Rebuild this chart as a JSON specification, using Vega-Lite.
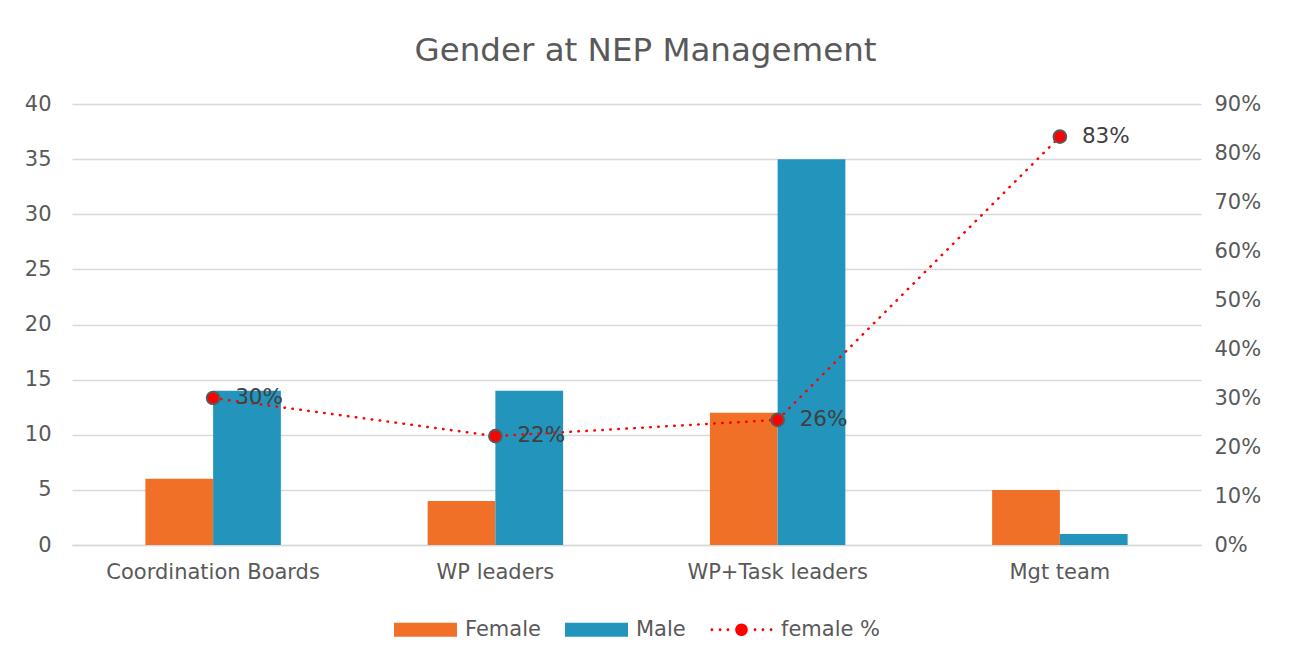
{
  "$schema": "https://vega.github.io/schema/vega-lite/v6.json",
  "width": 1129,
  "height": 441,
  "autosize": {"type": "none"},
  "padding": {"left": 72, "top": 104, "right": 89, "bottom": 119},
  "background": "white",
  "title": {
    "text": "Gender at NEP Management",
    "font": "DejaVu Sans",
    "fontSize": 32.5,
    "fontWeight": "normal",
    "color": "#595959",
    "anchor": "middle",
    "dx": 9,
    "offset": 0,
    "baseline": "alphabetic"
  },
  "config": {
    "view": {"stroke": null},
    "font": "DejaVu Sans"
  },
  "datasets": {
    "bars": [
      {"category": "Coordination Boards", "gender": "Female", "count": 6},
      {"category": "Coordination Boards", "gender": "Male", "count": 14},
      {"category": "WP leaders", "gender": "Female", "count": 4},
      {"category": "WP leaders", "gender": "Male", "count": 14},
      {"category": "WP+Task leaders", "gender": "Female", "count": 12},
      {"category": "WP+Task leaders", "gender": "Male", "count": 35},
      {"category": "Mgt team", "gender": "Female", "count": 5},
      {"category": "Mgt team", "gender": "Male", "count": 1}
    ],
    "pct": [
      {"category": "Coordination Boards", "pct": 0.30},
      {"category": "WP leaders", "pct": 0.2222},
      {"category": "WP+Task leaders", "pct": 0.2553},
      {"category": "Mgt team", "pct": 0.8333}
    ]
  },
  "encoding": {
    "x": {
      "field": "category",
      "type": "nominal",
      "sort": ["Coordination Boards", "WP leaders", "WP+Task leaders", "Mgt team"],
      "scale": {"paddingInner": 0.52, "paddingOuter": 0.26},
      "axis": {
        "title": null,
        "labelAngle": 0,
        "labelFontSize": 21,
        "labelColor": "#595959",
        "labelPadding": 16,
        "labelLimit": 0,
        "ticks": false,
        "domain": true,
        "domainColor": "#D9D9D9",
        "domainWidth": 1.5,
        "grid": false
      }
    }
  },
  "layer": [
    {
      "data": {"name": "bars"},
      "mark": {"type": "bar"},
      "encoding": {
        "xOffset": {"field": "gender", "type": "nominal", "sort": ["Female", "Male"]},
        "y": {
          "field": "count",
          "type": "quantitative",
          "scale": {"domain": [0, 40], "nice": false},
          "axis": {
            "title": null,
            "orient": "left",
            "values": [0, 5, 10, 15, 20, 25, 30, 35, 40],
            "labelFontSize": 21,
            "labelColor": "#595959",
            "labelPadding": 21,
            "ticks": false,
            "domain": false,
            "grid": true,
            "gridColor": "#D9D9D9",
            "gridWidth": 1.3
          }
        },
        "color": {
          "field": "gender",
          "type": "nominal",
          "scale": {"domain": ["Female", "Male", "female %"], "range": ["#F07027", "#2394BC", "#FF0000"]},
          "legend": {
            "title": null,
            "orient": "none",
            "legendX": 322,
            "legendY": 494,
            "direction": "horizontal",
            "columns": 3,
            "symbolSize": 3969,
            "symbolStrokeWidth": 0,
            "labelFontSize": 21,
            "labelColor": "#595959",
            "labelOffset": 8,
            "labelLimit": 0,
            "columnPadding": 24,
            "encode": {
              "symbols": {
                "update": {
                  "shape": {"signal": "datum.value === 'female %' ? 'M-0.2,0a0.2,0.2 0 1,0 0.4,0a0.2,0.2 0 1,0 -0.4,0Z M-0.985,0a0.045,0.045 0 1,0 0.09,0a0.045,0.045 0 1,0 -0.09,0Z M-0.725,0a0.045,0.045 0 1,0 0.09,0a0.045,0.045 0 1,0 -0.09,0Z M-0.475,0a0.045,0.045 0 1,0 0.09,0a0.045,0.045 0 1,0 -0.09,0Z M0.385,0a0.045,0.045 0 1,0 0.09,0a0.045,0.045 0 1,0 -0.09,0Z M0.635,0a0.045,0.045 0 1,0 0.09,0a0.045,0.045 0 1,0 -0.09,0Z M0.895,0a0.045,0.045 0 1,0 0.09,0a0.045,0.045 0 1,0 -0.09,0Z' : 'M-1,-0.22H1V0.22H-1Z'"},
                  "fill": {"signal": "datum.value === 'Female' ? '#F07027' : datum.value === 'Male' ? '#2394BC' : '#FF0000'"},
                  "strokeWidth": {"value": 0},
                  "opacity": {"value": 1}
                }
              }
            }
          }
        }
      }
    },
    {
      "data": {"name": "pct"},
      "encoding": {
        "y": {
          "field": "pct",
          "type": "quantitative",
          "scale": {"domain": [0, 0.9], "nice": false},
          "axis": {
            "title": null,
            "orient": "right",
            "values": [0, 0.1, 0.2, 0.3, 0.4, 0.5, 0.6, 0.7, 0.8, 0.9],
            "format": ".0%",
            "labelFontSize": 21,
            "labelColor": "#595959",
            "labelPadding": 13,
            "ticks": false,
            "domain": false,
            "grid": false
          }
        }
      },
      "layer": [
        {
          "mark": {"type": "line", "strokeWidth": 2.5, "strokeDash": [0.5, 7.5], "strokeCap": "round"},
          "encoding": {"color": {"datum": "female %"}}
        },
        {
          "mark": {"type": "point", "filled": true, "size": 160, "fill": "#FF0000", "stroke": "#595959", "strokeWidth": 2, "opacity": 1}
        },
        {
          "mark": {"type": "text", "align": "left", "baseline": "middle", "dx": 22, "fontSize": 21.5, "color": "#404040"},
          "encoding": {"text": {"field": "pct", "type": "quantitative", "format": ".0%"}}
        }
      ]
    }
  ],
  "resolve": {"scale": {"y": "independent"}}
}
